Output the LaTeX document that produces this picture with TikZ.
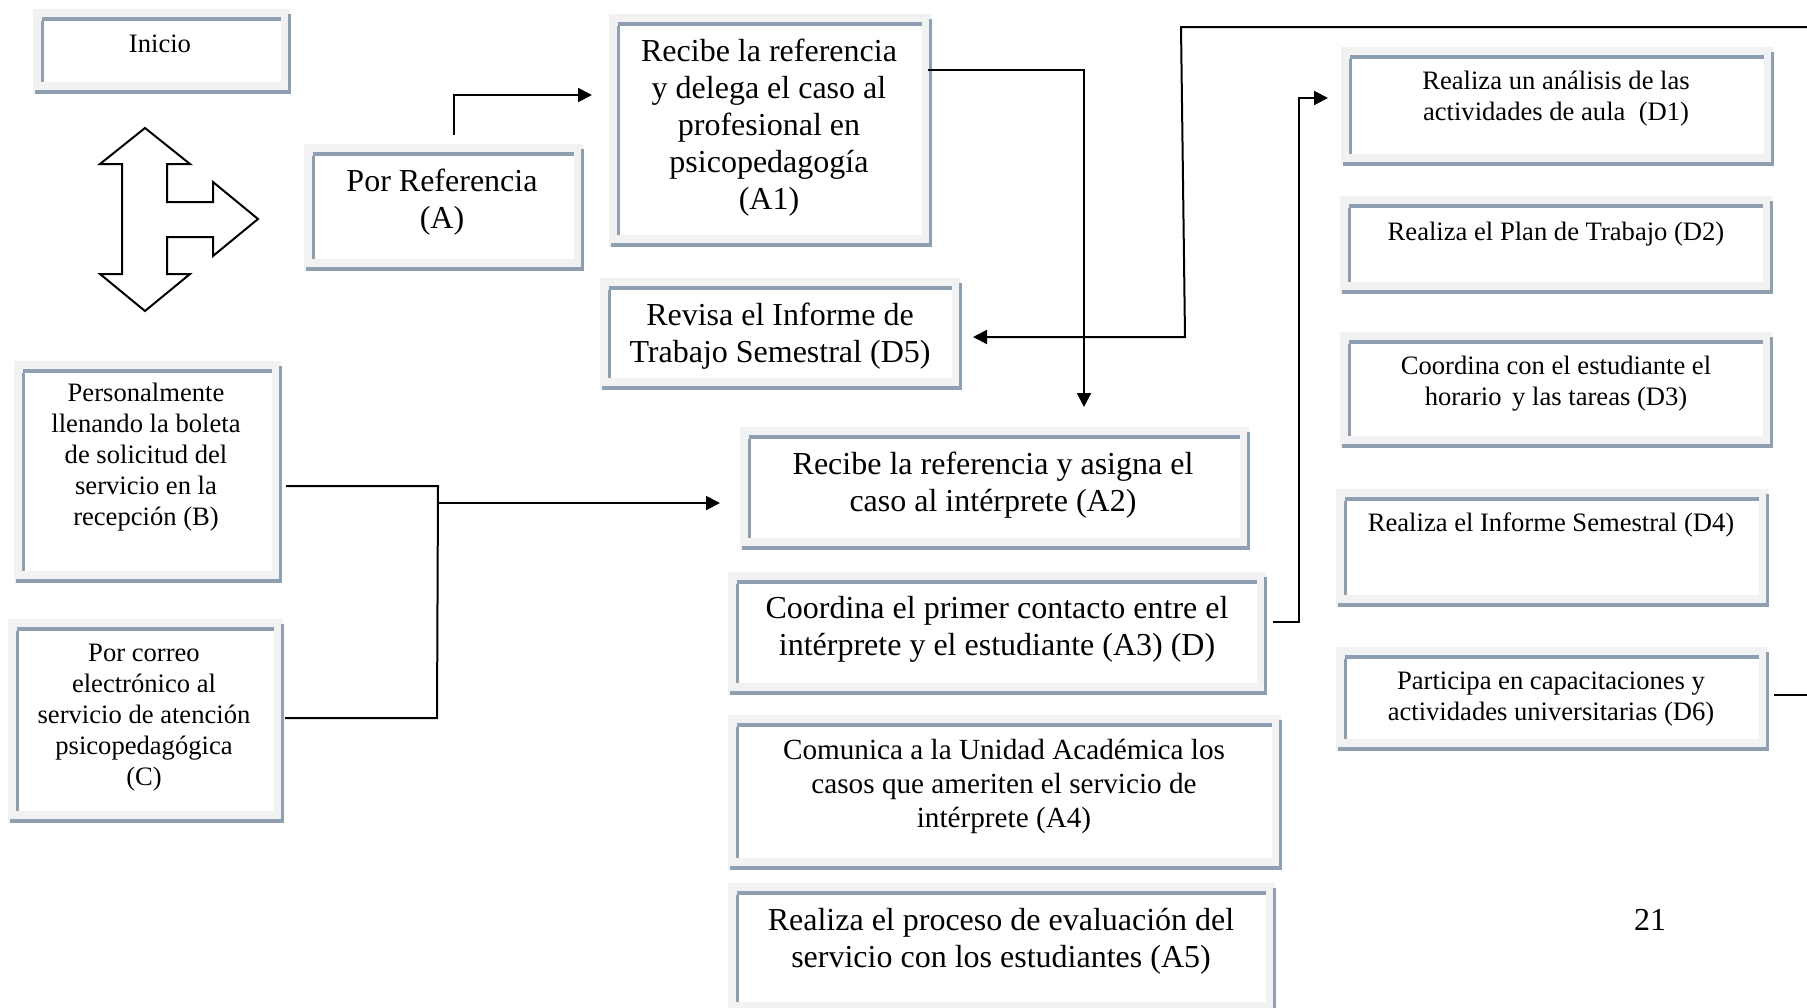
\documentclass[tikz,border=0pt]{standalone}
\usepackage{fontspec}
\setmainfont{Liberation Serif}
\usetikzlibrary{arrows.meta}
\definecolor{boxgray}{RGB}{242,242,242}
\definecolor{boxblue}{RGB}{143,159,178}
\newcommand\drawbox[4]{%
  \fill[boxgray] (#1-9,#2-12) rectangle (#3+9,#4+12);
  \fill[white] (#1,#2) rectangle (#3,#4);
  \fill[boxblue] (#1,#2-4) rectangle (#3,#2);
  \fill[boxblue] (#1-1,#2) rectangle (#1+1.5,#4);
  \fill[boxblue] (#3+7,#2-7) rectangle (#3+9.5,#4+12);
  \fill[boxblue] (#1-7,#4+8) rectangle (#3+9.5,#4+12);
}
\begin{document}
\begin{tikzpicture}[x=0.5pt,y=-0.5pt,
  conn/.style={line width=1pt,black,line join=miter},
  arr/.style={conn,-{Triangle[length=7pt,width=7pt]}},
  big/.style={font=\fontsize{16}{18.5}\selectfont,align=center,inner sep=0pt},
  mid/.style={font=\fontsize{14.6}{17}\selectfont,align=center,inner sep=0pt},
  small/.style={font=\fontsize{13.3}{15.5}\selectfont,align=center,inner sep=0pt}]
\clip (0,0) rectangle (1807,1007);
\fill[white] (0,0) rectangle (1807,1007);

% boxes
\drawbox{42}{21}{281}{82}      % Inicio
\drawbox{313}{156}{574}{259}   % Por Referencia
\drawbox{618}{26}{922}{235}    % A1
\drawbox{609}{290}{952}{378}   % D5
\drawbox{749}{439}{1240}{538}  % A2
\drawbox{737}{584}{1257}{683}  % A3
\drawbox{737}{727}{1272}{858}  % A4
\drawbox{737}{895}{1266}{1002} % A5
\drawbox{23}{373}{272}{571}    % B
\drawbox{17}{631}{274}{811}    % C
\drawbox{1350}{59}{1764}{154}  % D1
\drawbox{1349}{208}{1763}{282} % D2
\drawbox{1349}{344}{1763}{436} % D3
\drawbox{1345}{501}{1759}{595} % D4
\drawbox{1345}{659}{1759}{739} % D6

% multi-directional arrow shape
\draw[line width=1pt,fill=white,line join=miter]
  (145,128) -- (190,164) -- (167,164) -- (167,202) -- (213,202) -- (213,182)
  -- (258,219) -- (213,256) -- (213,237) -- (167,237) -- (167,274) -- (190,274)
  -- (145,311) -- (100,274) -- (122,274) -- (122,164) -- (100,164) -- cycle;

% texts
\node[small] (ini) at (160,44) {Inicio};
\node[big] (pr) at (442,202) {Por Referencia\\(A)};
\node[big] (a1) at (769,128) {Recibe la referencia\\y delega el caso al\\profesional en\\psicopedagogía\\(A1)};
\node[big] (d5) at (780,336.5) {Revisa el Informe de\\Trabajo Semestral (D5)};
\node[big] (a2) at (993,485.5) {Recibe la referencia y asigna el\\caso al intérprete (A2)};
\node[big] (a3) at (997,629.5) {Coordina el primer contacto entre el\\intérprete y el estudiante (A3) (D)};
\node[mid] (a4) at (1004,786.5) {Comunica a la Unidad Académica los\\casos que ameriten el servicio de\\intérprete (A4)};
\node[big] (a5) at (1001,941) {Realiza el proceso de evaluación del\\servicio con los estudiantes (A5)};
\node[small] (b) at (146,457.5) {Personalmente\\llenando la boleta\\de solicitud del\\servicio en la\\recepción (B)};
\node[small] (c) at (144,718) {Por correo\\electrónico al\\servicio de atención\\psicopedagógica\\(C)};
\node[small] (d1) at (1556,98.5) {Realiza un análisis de las\\actividades de aula\ \ (D1)};
\node[small] (d2) at (1556,234) {Realiza el Plan de Trabajo (D2)};
\node[small] (d3) at (1556,383.5) {Coordina con el estudiante el\\horario\hspace{0.15em} y las tareas (D3)};
\node[small] (d4) at (1551,524.5) {Realiza el Informe Semestral (D4)};
\node[small] (d6) at (1551,699) {Participa en capacitaciones y\\actividades universitarias (D6)};
\node[big] (pg) at (1650,920) {21};

% connector points
\coordinate (prTop) at (454,135);
\coordinate (prK) at (454,95);
\coordinate (a1In) at (592,95);
\coordinate (a1Out) at (928,70);
\coordinate (a1K) at (1084,70);
\coordinate (a2In) at (1084,407);
\coordinate (edgeTop) at (1807,27);
\coordinate (d5K1) at (1181,27);
\coordinate (d5K2) at (1185,337);
\coordinate (d5In) at (973,337);
\coordinate (d6Out) at (1774,695);
\coordinate (edgeD6) at (1807,695);
\coordinate (bOut) at (286,486);
\coordinate (bK) at (438,486);
\coordinate (cOut) at (285,718);
\coordinate (cK) at (437,718);
\coordinate (bcM) at (438,503);
\coordinate (a2Left) at (720,503);
\coordinate (a3Out) at (1273,622);
\coordinate (a3K1) at (1299,622);
\coordinate (a3K2) at (1299,98);
\coordinate (d1In) at (1328,98);

% connectors
\draw[arr] (prTop) -- (prK) -- (a1In);
\draw[arr] (a1Out) -- (a1K) -- (a2In);
\draw[arr] (edgeTop) -- (d5K1) -- (d5K2) -- (d5In);
\draw[conn] (d6Out) -- (edgeD6);
\draw[conn] (bOut) -- (bK) -- (cK) -- (cOut);
\draw[arr] (bcM) -- (a2Left);
\draw[arr] (a3Out) -- (a3K1) -- (a3K2) -- (d1In);
\end{tikzpicture}
\end{document}
